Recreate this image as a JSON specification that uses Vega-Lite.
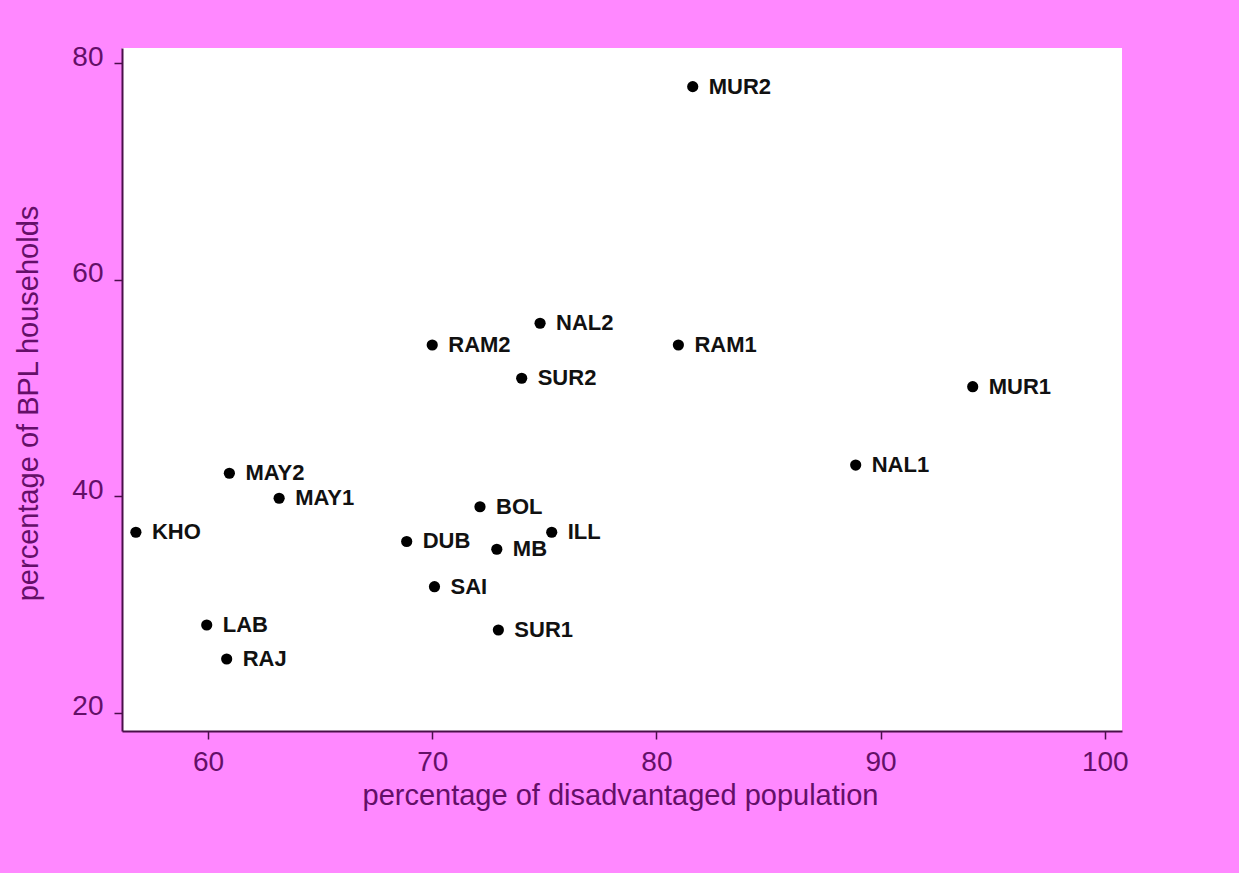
{
  "$schema": "https://vega.github.io/schema/vega-lite/v6.json",
  "autosize": {"type": "none"},
  "width": 1000,
  "height": 683,
  "padding": {"left": 122, "top": 48, "right": 117, "bottom": 142},
  "background": "#FF88FF",
  "config": {
    "view": {"stroke": null, "fill": "white"},
    "axis": {
      "grid": false,
      "domainColor": "#4a0f4a",
      "domainWidth": 2,
      "tickColor": "#4a0f4a",
      "tickWidth": 1.5,
      "tickSize": 8,
      "labelFont": "Liberation Sans",
      "labelFontSize": 28,
      "labelColor": "#640f68",
      "titleFont": "Liberation Sans",
      "titleFontSize": 29,
      "titleFontWeight": "normal",
      "titleColor": "#640f68"
    }
  },
  "data": {
    "values": [
      {"code": "MUR2", "dis": 81.62, "bpl": 77.84},
      {"code": "NAL2", "dis": 74.81, "bpl": 55.98},
      {"code": "RAM2", "dis": 70.0, "bpl": 53.97},
      {"code": "RAM1", "dis": 80.98, "bpl": 53.97},
      {"code": "SUR2", "dis": 73.99, "bpl": 50.9},
      {"code": "MUR1", "dis": 94.11, "bpl": 50.12},
      {"code": "NAL1", "dis": 88.89, "bpl": 42.88},
      {"code": "MAY2", "dis": 60.95, "bpl": 42.12},
      {"code": "MAY1", "dis": 63.17, "bpl": 39.81},
      {"code": "BOL", "dis": 72.13, "bpl": 39.03},
      {"code": "KHO", "dis": 56.78, "bpl": 36.67},
      {"code": "ILL", "dis": 75.33, "bpl": 36.67},
      {"code": "DUB", "dis": 68.86, "bpl": 35.82},
      {"code": "MB", "dis": 72.88, "bpl": 35.1},
      {"code": "SAI", "dis": 70.1, "bpl": 31.64},
      {"code": "LAB", "dis": 59.94, "bpl": 28.1},
      {"code": "SUR1", "dis": 72.95, "bpl": 27.64},
      {"code": "RAJ", "dis": 60.83, "bpl": 24.96}
    ]
  },
  "encoding": {
    "x": {
      "field": "dis",
      "type": "quantitative",
      "scale": {"domain": [56.16, 100.77], "nice": false, "zero": false},
      "axis": {
        "title": "percentage of disadvantaged population",
        "values": [60, 70, 80, 90, 100],
        "labelPadding": 9,
        "titleX": 498,
        "titleY": 73,
        "titleBaseline": "alphabetic",
        "titleAnchor": null
      }
    },
    "y": {
      "field": "bpl",
      "type": "quantitative",
      "scale": {"domain": [18.31, 81.41], "nice": false, "zero": false},
      "axis": {
        "title": "percentage of BPL households",
        "values": [20, 40, 60, 80],
        "labelPadding": 11,
        "labelOffset": -6,
        "titleX": -85,
        "titleY": 355,
        "titleBaseline": "alphabetic",
        "titleAngle": 270
      }
    }
  },
  "layer": [
    {
      "mark": {"type": "point", "filled": true, "shape": "circle", "size": 125, "color": "black", "opacity": 1}
    },
    {
      "mark": {"type": "text", "align": "left", "baseline": "middle", "dx": 16, "font": "Liberation Sans", "fontWeight": "bold", "fontSize": 22, "color": "#111111"},
      "encoding": {"text": {"field": "code"}}
    }
  ]
}
